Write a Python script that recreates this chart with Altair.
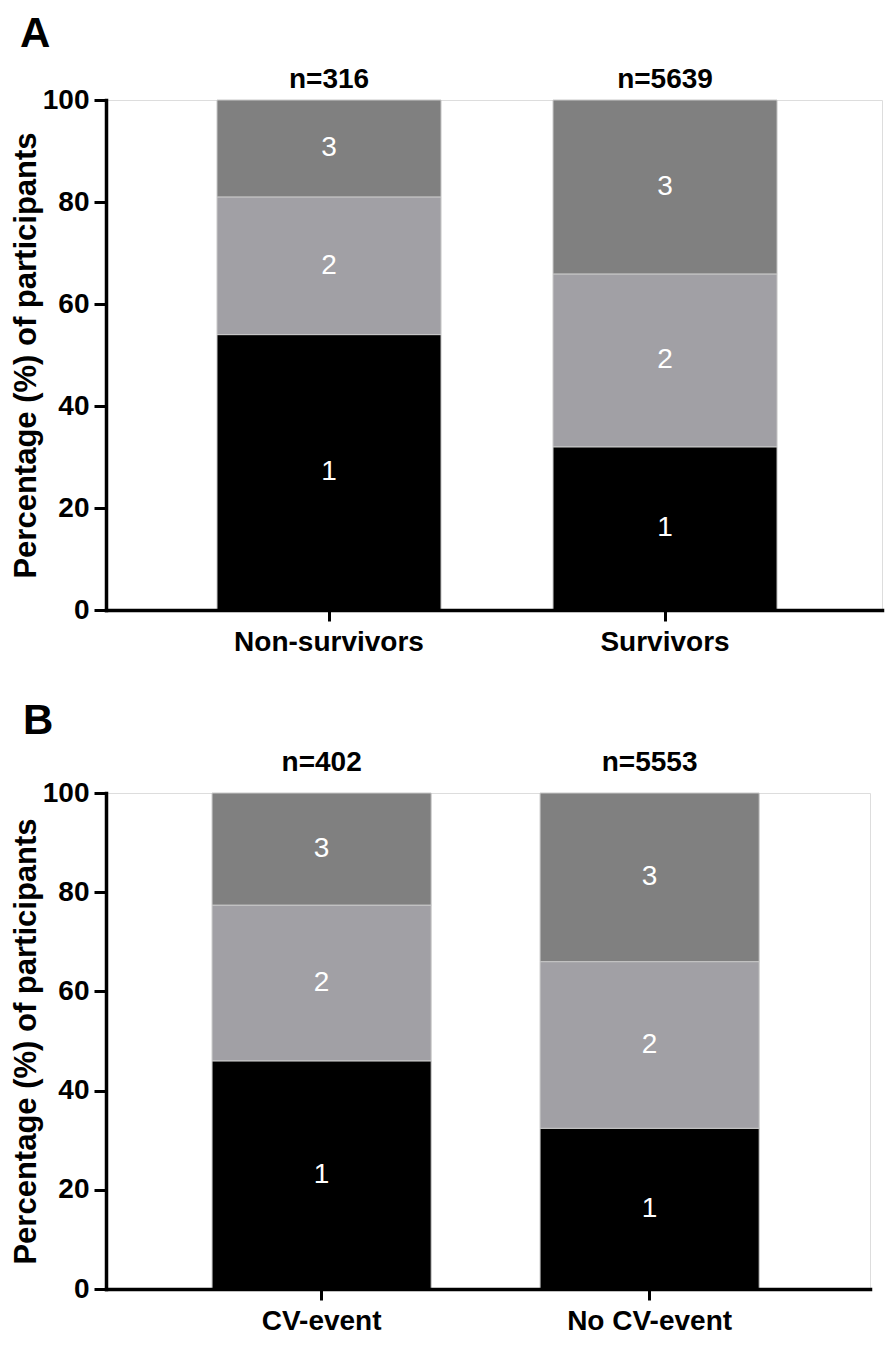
import altair as alt
import pandas as pd

# ---- data ----
groups_a = ["Non-survivors", "Survivors"]
n_a = [316, 5639]
tier1_a = [54.0, 32.0]
tier2_a = [27.0, 33.9]
tier3_a = [19.0, 34.1]

groups_b = ["CV-event", "No CV-event"]
n_b = [402, 5553]
tier1_b = [46.0, 32.4]
tier2_b = [31.4, 33.6]
tier3_b = [22.6, 34.0]

tiers = ["1", "2", "3"]
tier_colors = ["#000000", "#a1a0a5", "#808080"]
y_ticks = [0, 20, 40, 60, 80, 100]

FONT = "Liberation Sans"
Y_TITLE = "Percentage (%) of participants"


def seg_table(groups, t1, t2, t3):
    rows = []
    for i, g in enumerate(groups):
        start = 0.0
        for tier, vals in zip(tiers, (t1, t2, t3)):
            v = vals[i]
            rows.append({"group": g, "tier": tier, "start": start,
                         "end": start + v, "mid": start + v / 2})
            start += v
    return pd.DataFrame(rows)


def panel(letter, groups, n, t1, t2, t3, width, height, pad_in, pad_out, align,
          n_dy, letter_x, letter_y):
    segs = seg_table(groups, t1, t2, t3)
    totals = pd.DataFrame({
        "group": groups,
        "total": [a + b + c for a, b, c in zip(t1, t2, t3)],
        "label": [f"n={v}" for v in n],
    })
    xscale = alt.Scale(domain=groups, paddingInner=pad_in, paddingOuter=pad_out,
                       align=align)
    yscale = alt.Scale(domain=[0, 100], nice=False)
    xaxis = alt.Axis(title=None, labelAngle=0, labelFont=FONT, labelFontSize=28,
                     labelFontWeight="bold", labelColor="black", labelPadding=7,
                     labelLimit=500, domainColor="black", domainWidth=3.5,
                     domainCap="square", tickColor="black", tickWidth=3,
                     tickSize=11, grid=False, zindex=1)
    yaxis = alt.Axis(values=y_ticks, labelFont=FONT, labelFontSize=28,
                     labelFontWeight="bold", labelColor="black", labelPadding=5,
                     titleFont=FONT, titleFontSize=31, titleFontWeight="bold",
                     titleColor="black", titlePadding=0, domainColor="black",
                     domainWidth=3.5, domainCap="square", tickColor="black",
                     tickWidth=3, tickSize=12, grid=False, zindex=1)

    def X():
        return alt.X("group:N", scale=xscale, sort=groups, axis=xaxis)

    def Y(field):
        return alt.Y(field, scale=yscale, axis=yaxis, title=Y_TITLE)

    bars = alt.Chart(segs).mark_bar(stroke="#c8c8c8", strokeWidth=1).encode(
        x=X(),
        y=Y("start:Q"),
        y2="end:Q",
        color=alt.Color("tier:N", scale=alt.Scale(domain=tiers, range=tier_colors),
                        legend=None),
    )
    seg_labels = alt.Chart(segs).mark_text(
        font=FONT, fontSize=28, color="white", baseline="middle", align="center"
    ).encode(x=X(), y=Y("mid:Q"), text="tier:N")

    n_labels = alt.Chart(totals).mark_text(
        font=FONT, fontSize=28, fontWeight="bold", color="black",
        baseline="alphabetic", align="center", dy=n_dy
    ).encode(x=X(), y=Y("total:Q"), text="label:N")

    letter_mark = alt.Chart(pd.DataFrame({"letter": [letter]})).mark_text(
        font=FONT, fontSize=42, fontWeight="bold", color="black",
        baseline="top", align="left"
    ).encode(x=alt.value(letter_x), y=alt.value(letter_y), text="letter:N")

    return alt.layer(bars, seg_labels, n_labels, letter_mark).properties(
        width=width, height=height
    )


panel_a = panel("A", groups_a, n_a, tier1_a, tier2_a, tier3_a,
                776, 510, 0.3333, 0.3214, 0.514, -12, -86, -86)
panel_b = panel("B", groups_b, n_b, tier1_b, tier2_b, tier3_b,
                764, 496, 0.332, 0.3306, 0.489, -22, -83, -92)

chart = alt.vconcat(panel_a, panel_b, spacing=42).properties(
    padding={"left": 1, "top": 4, "right": 2, "bottom": -2}
).configure_view(stroke=None).configure(background="white")

chart.save("out.html", embed_options={"renderer": "svg", "actions": False})
